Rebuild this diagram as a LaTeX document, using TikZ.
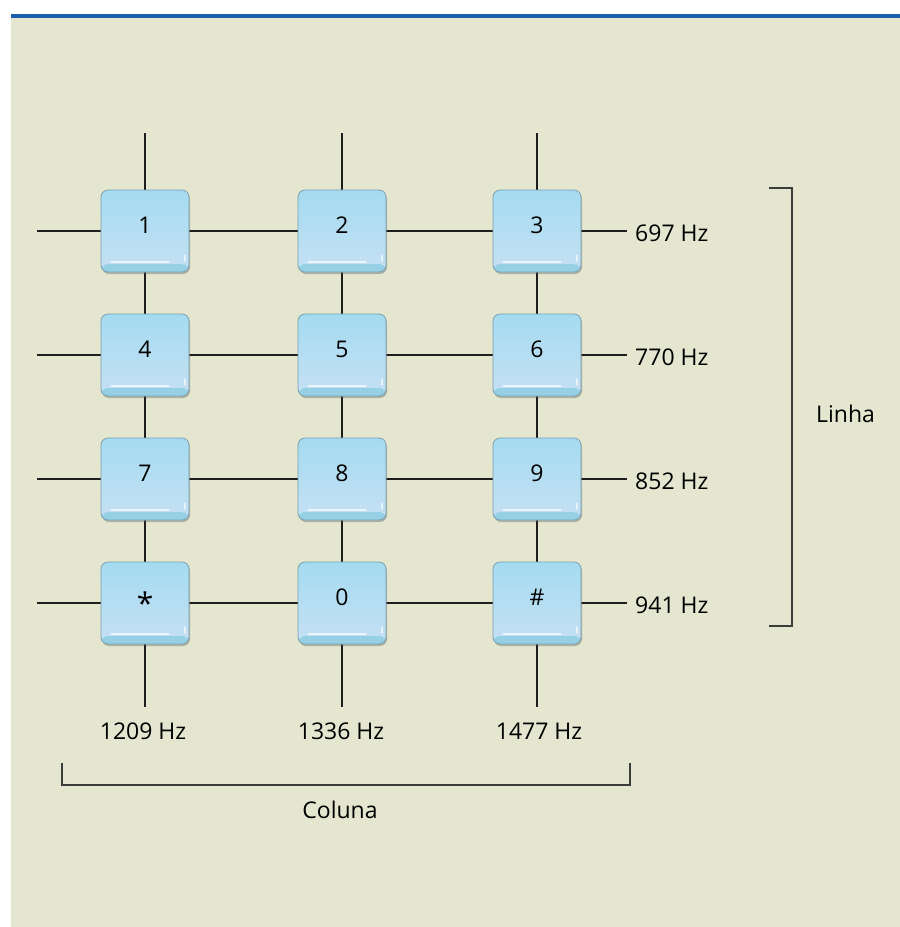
\documentclass[tikz,border=0pt]{standalone}
\usepackage{fontspec}
\usepackage{graphicx}
\setmainfont{Open Sans}
\usetikzlibrary{shadows}
\definecolor{bg}{RGB}{228,230,207}
\definecolor{topblue}{RGB}{26,93,171}
\definecolor{keytop}{RGB}{164,219,240}
\definecolor{keybot}{RGB}{198,224,244}
\definecolor{keylip}{RGB}{150,208,228}
\definecolor{keyedge}{RGB}{120,160,175}
\definecolor{wire}{RGB}{30,30,30}
\definecolor{brk}{RGB}{60,60,60}
\tikzset{
  key/.style={rectangle, rounded corners=7pt, minimum width=88pt, minimum height=82pt,
    inner sep=0pt, top color=keytop, bottom color=keybot, draw=keyedge, line width=0.8pt,
    drop shadow={shadow xshift=1pt, shadow yshift=-2pt, opacity=0.35, fill=black!70},
    text height=17pt, text depth=12pt, font=\fontsize{23}{28}\selectfont,
    path picture={
      \fill[keylip] ([yshift=-1pt]path picture bounding box.south west) rectangle ([yshift=8pt]path picture bounding box.south east);
      \draw[white, line width=1.3pt, opacity=0.7, line cap=round]
        ([xshift=10pt,yshift=10pt]path picture bounding box.south west) -- ([xshift=-20pt,yshift=10pt]path picture bounding box.south east);
      \draw[white, line width=1.3pt, opacity=0.6, line cap=round]
        ([xshift=-4pt,yshift=11pt]path picture bounding box.south east) -- ([xshift=-4pt,yshift=17pt]path picture bounding box.south east);
    }},
  wireline/.style={draw=wire, line width=1.5pt},
  bracket/.style={draw=brk, line width=1.6pt},
  lbl/.style={font=\fontsize{23}{28}\selectfont, inner sep=0pt}
}
\begin{document}
\begin{tikzpicture}[x=1pt,y=-1pt]
\useasboundingbox (0,0) rectangle (900,927);
\fill[bg] (11,17) rectangle (900,927);
\fill[topblue] (11,14) rectangle (900,17.5);

% free ends
\foreach \c/\x in {1/145,2/342,3/537}{
  \coordinate (top\c) at (\x,133);
  \coordinate (bot\c) at (\x,707);
}
\foreach \r/\y in {1/231,2/355,3/479,4/603}{
  \coordinate (left\r) at (37,\y);
  \coordinate (right\r) at (627,\y);
}

% wires (drawn first, keys on top)
\foreach \c/\x in {1/145,2/342,3/537}{
  \draw[wireline] (top\c) -- (bot\c);
}
\foreach \r/\y in {1/231,2/355,3/479,4/603}{
  \draw[wireline] (left\r) -- (right\r);
}

% keys
\node[key] (k1) at (145,231) {1};
\node[key] (k2) at (342,231) {2};
\node[key] (k3) at (537,231) {3};
\node[key] (k4) at (145,355) {4};
\node[key] (k5) at (342,355) {5};
\node[key] (k6) at (537,355) {6};
\node[key] (k7) at (145,479) {7};
\node[key] (k8) at (342,479) {8};
\node[key] (k9) at (537,479) {9};
\node[key] (ks) at (145,603) {\raisebox{-9pt}{\scalebox{1.3}{*}}};
\node[key] (k0) at (342,603) {0};
\node[key] (kh) at (537,603) {\#};

% row labels
\node[lbl, anchor=base west] (f697) at (635,241) {697 Hz};
\node[lbl, anchor=base west] (f770) at (635,365) {770 Hz};
\node[lbl, anchor=base west] (f852) at (635,489) {852 Hz};
\node[lbl, anchor=base west] (f941) at (635,613) {941 Hz};

% column labels
\node[lbl, anchor=base] (f1209) at (143,739) {1209 Hz};
\node[lbl, anchor=base] (f1336) at (341,739) {1336 Hz};
\node[lbl, anchor=base] (f1477) at (539,739) {1477 Hz};

% brackets
\coordinate (bl1) at (62,763);
\coordinate (bl2) at (62,785);
\coordinate (bl3) at (630,785);
\coordinate (bl4) at (630,763);
\draw[bracket] (bl1) -- (bl2) -- (bl3) -- (bl4);
\node[lbl, anchor=base] (coluna) at (340,818) {Coluna};

\coordinate (br1) at (769,188);
\coordinate (br2) at (792,188);
\coordinate (br3) at (792,626);
\coordinate (br4) at (769,626);
\draw[bracket] (br1) -- (br2) -- (br3) -- (br4);
\node[lbl, anchor=base west] (linha) at (816,422) {Linha};
\end{tikzpicture}
\end{document}
